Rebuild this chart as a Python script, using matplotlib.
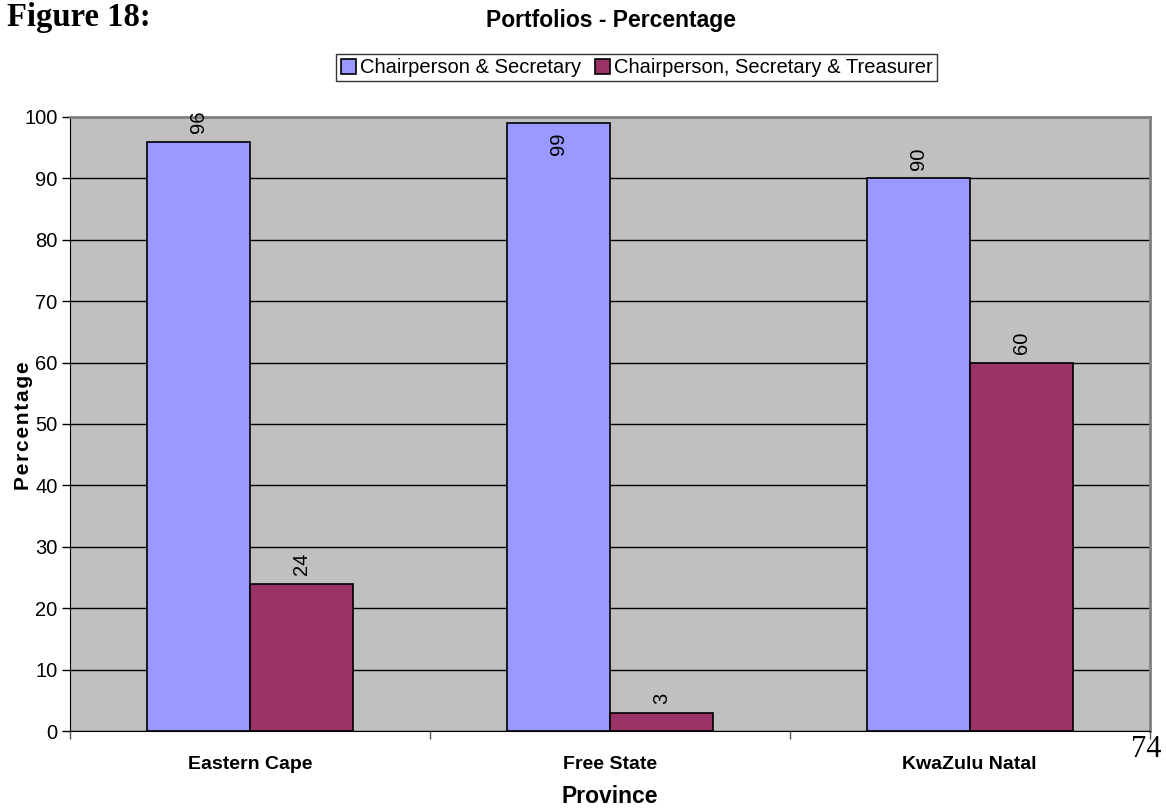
import matplotlib.pyplot as plt
import numpy as np

plt.rcParams['font.family'] = ['Liberation Sans', 'DejaVu Sans']

provinces = ['Eastern Cape', 'Free State', 'KwaZulu Natal']
series_names = ['Chairperson & Secretary', 'Chairperson, Secretary & Treasurer']
chair_sec = [96, 99, 90]
chair_sec_tre = [24, 3, 60]
colors = ['#9999FF', '#993366']

fig = plt.figure(figsize=(11.66, 8.09), dpi=100)
ax = fig.add_axes([0.060, 0.0964, 0.926, 0.759])
ax.set_facecolor('#C0C0C0')

x = np.arange(len(provinces))
w = 0.286
for i, (vals, name) in enumerate(zip([chair_sec, chair_sec_tre], series_names)):
    pos = x - w / 2 + i * w
    bars = ax.bar(pos, vals, w, color=colors[i], edgecolor='black', linewidth=1.2,
                  label=name, zorder=3)
    for b, v in zip(bars, vals):
        # labels near the top of the plot area are pushed inside the bar
        if v > 97:
            ax.annotate(str(v), (b.get_x() + b.get_width() / 2, v), xytext=(0, -7),
                        textcoords='offset points', rotation=90, ha='center', va='top',
                        fontsize=14.5, zorder=4)
        else:
            ax.annotate(str(v), (b.get_x() + b.get_width() / 2, v), xytext=(0, 6),
                        textcoords='offset points', rotation=90, ha='center', va='bottom',
                        fontsize=14.5, zorder=4, annotation_clip=False)

ax.set_xlim(-0.5, 2.5)
ax.set_ylim(0, 100)
ax.set_yticks(range(0, 101, 10))
ax.yaxis.grid(True, color='black', linewidth=1)
ax.set_axisbelow(True)
ax.tick_params(axis='y', labelsize=14.5, length=6, width=1, direction='out', pad=3)

ax.set_xticks([-0.5, 0.5, 1.5, 2.5])
ax.set_xticklabels([])
ax.tick_params(axis='x', length=6, width=1, direction='out', color='#555555')
for xi, name in zip(x, provinces):
    ax.text(xi, -0.055, name, transform=ax.get_xaxis_transform(), ha='center',
            va='center', fontsize=14, fontweight='bold')

ax.spines['top'].set_color('#808080')
ax.spines['right'].set_color('#808080')
ax.spines['top'].set_linewidth(2)
ax.spines['right'].set_linewidth(2)
ax.spines['left'].set_color('black')
ax.spines['bottom'].set_color('black')

ax.set_ylabel('P\u200ae\u200ar\u200ac\u200ae\u200an\u200at\u200aa\u200ag\u200ae',
              fontsize=15, fontweight='bold')
ax.yaxis.set_label_coords(-0.034, 0.498)
fig.text(0.523, 0.015, 'Province', ha='center', va='center', fontsize=16.5,
         fontweight='bold')

fig.text(0.524, 0.975, 'Portfolios - Percentage', ha='center', va='center',
         fontsize=16.5, fontweight='bold')
leg = fig.legend(loc='center', bbox_to_anchor=(0.546, 0.916), ncol=2, fontsize=14.5,
                 frameon=True, fancybox=False, edgecolor='black', handlelength=0.75,
                 handleheight=0.75, handletextpad=0.2, columnspacing=0.7,
                 borderpad=0.2, borderaxespad=0)
leg.get_frame().set_linewidth(1)

fig.text(0.006, 0.978, 'Figure 18:', ha='left', va='center', fontsize=23.5,
         fontweight='bold', family='Liberation Serif')
fig.text(0.996, 0.073, '74', ha='right', va='center', fontsize=22,
         family='Liberation Serif')

fig.savefig('out.png', dpi=100)
